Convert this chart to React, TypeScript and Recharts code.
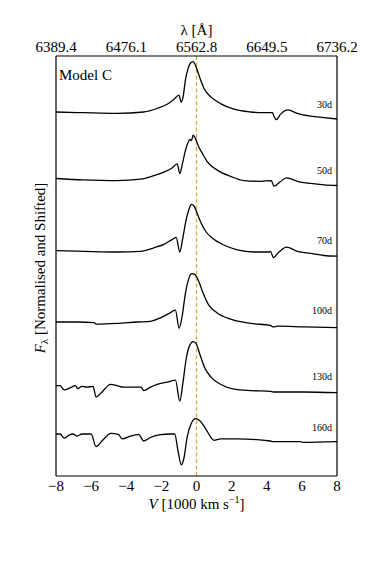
import React from 'react';
import { LineChart, Line, XAxis, YAxis, ReferenceLine, ReferenceDot } from 'recharts';

const FONT = '"Liberation Serif", "DejaVu Serif", "Times New Roman", serif';

// velocity (1000 km/s) and normalised+shifted flux for each epoch
const v30 = [-8, -6.44, -4.52, -3.0, -2.24, -1.67, -1.29, -1.0, -0.87, -0.76, -0.63, -0.48, -0.34, -0.21, -0.1, 0.04, 0.23, 0.42, 0.8, 1.37, 2.13, 3.08, 3.84, 4.32, 4.41, 4.54, 4.79, 5.21, 5.74, 6.5, 7.26, 8];
const f30 = [4.70, 4.69, 4.68, 4.70, 4.75, 4.81, 4.88, 4.94, 4.84, 4.92, 5.16, 5.32, 5.40, 5.42, 5.39, 5.30, 5.16, 5.04, 4.92, 4.82, 4.74, 4.70, 4.69, 4.69, 4.64, 4.59, 4.67, 4.73, 4.68, 4.64, 4.62, 4.60];

const v50 = [-8, -6.44, -4.52, -3.19, -2.43, -1.86, -1.39, -1.1, -0.95, -0.82, -0.67, -0.49, -0.38, -0.29, -0.19, -0.06, 0.13, 0.38, 0.61, 1.18, 1.94, 2.7, 3.65, 4.26, 4.41, 4.75, 5.13, 5.74, 6.5, 7.26, 8];
const f50 = [3.75, 3.73, 3.72, 3.74, 3.79, 3.84, 3.90, 3.96, 3.82, 3.94, 4.11, 4.26, 4.31, 4.29, 4.37, 4.32, 4.20, 4.09, 3.99, 3.87, 3.78, 3.72, 3.71, 3.72, 3.64, 3.70, 3.76, 3.71, 3.68, 3.66, 3.65];

const v70 = [-8, -6.44, -4.52, -3.19, -2.43, -1.86, -1.44, -1.16, -0.95, -0.8, -0.63, -0.44, -0.29, -0.15, 0.04, 0.27, 0.51, 0.89, 1.56, 2.32, 3.27, 4.13, 4.22, 4.37, 4.7, 5.13, 5.74, 6.5, 7.26, 8];
const f70 = [2.72, 2.71, 2.70, 2.71, 2.76, 2.81, 2.87, 2.91, 2.70, 2.87, 3.11, 3.30, 3.38, 3.36, 3.25, 3.11, 3.00, 2.90, 2.80, 2.73, 2.70, 2.70, 2.71, 2.62, 2.70, 2.77, 2.71, 2.68, 2.65, 2.64];

const v100 = [-8, -6.81, -5.82, -5.72, -4.52, -3.38, -2.62, -2.05, -1.58, -1.2, -0.99, -0.82, -0.63, -0.44, -0.25, -0.1, 0.13, 0.38, 0.7, 1.18, 1.94, 3.08, 4.22, 4.37, 4.6, 6.12, 8];
const f100 = [1.70, 1.70, 1.69, 1.67, 1.68, 1.70, 1.71, 1.76, 1.82, 1.87, 1.61, 1.78, 2.11, 2.32, 2.39, 2.38, 2.28, 2.11, 1.94, 1.83, 1.74, 1.68, 1.65, 1.63, 1.64, 1.63, 1.62];

const v130 = [-8, -7.77, -7.53, -7.19, -6.9, -6.77, -6.52, -6.24, -5.89, -5.72, -5.38, -4.9, -4.52, -4.14, -3.16, -3.0, -2.62, -2.24, -1.67, -1.2, -0.95, -0.78, -0.57, -0.38, -0.19, -0.04, 0.19, 0.46, 0.8, 1.37, 2.13, 3.08, 4.22, 4.37, 6.12, 8];
const f130 = [0.79, 0.79, 0.73, 0.76, 0.79, 0.75, 0.78, 0.77, 0.78, 0.63, 0.70, 0.81, 0.79, 0.77, 0.77, 0.72, 0.77, 0.81, 0.84, 0.87, 0.57, 0.82, 1.20, 1.37, 1.42, 1.40, 1.24, 1.05, 0.92, 0.81, 0.74, 0.72, 0.71, 0.70, 0.70, 0.69];

const v160 = [-8, -7.77, -7.53, -7.28, -7.03, -6.81, -6.52, -6.0, -5.72, -5.38, -4.87, -4.43, -4.24, -3.76, -3.29, -3.0, -2.62, -2.05, -1.48, -1.24, -1.06, -0.87, -0.72, -0.53, -0.3, -0.06, 0.19, 0.51, 0.8, 0.99, 1.37, 2.32, 4.22, 4.32, 5.93, 6.03, 8];
const f160 = [0.10, 0.10, 0.04, 0.08, 0.10, 0.07, 0.10, 0.10, -0.08, 0.00, 0.11, 0.09, 0.03, 0.07, 0.09, 0.00, 0.05, 0.09, 0.10, 0.10, -0.13, -0.34, -0.25, 0.06, 0.25, 0.32, 0.29, 0.18, 0.06, 0.01, 0.03, 0.03, 0.00, -0.01, -0.01, -0.02, -0.01];

const dayLabels = ['30d', '50d', '70d', '100d', '130d', '160d'];
const dayLabelY = [4.81, 3.86, 2.86, 1.86, 0.92, 0.2];
const dayLabelX = 7.72;

const velTicks = [-8, -6, -4, -2, 0, 2, 4, 6, 8];
const velMinorTicks = [-7, -5, -3, -1, 1, 3, 5, 7];
const topTicks = [-8, -4, 0, 4, 8];
const topTickLabels = ['6389.4', '6476.1', '6562.8', '6649.5', '6736.2'];
const yTicks = [0, 1, 2, 3, 4, 5];

const makeData = (v: number[], f: number[]) => v.map((x, i) => ({ v: x, f: f[i] }));
const series = [
  makeData(v30, f30),
  makeData(v50, f50),
  makeData(v70, f70),
  makeData(v100, f100),
  makeData(v130, f130),
  makeData(v160, f160),
];

const fmtVel = (n: number) => (n < 0 ? '\u2212' + Math.abs(n) : String(n));

const BottomTick = (props: any) => (
  <text x={props.x} y={props.y + 10} textAnchor="middle" dominantBaseline="central" fontFamily={FONT} fontSize={15} fill="#000">
    {fmtVel(props.payload.value)}
  </text>
);

const TopTick = (props: any) => {
  const idx = topTicks.indexOf(props.payload.value);
  return (
    <text x={props.x} y={props.y - 9.5} textAnchor="middle" dominantBaseline="central" fontFamily={FONT} fontSize={15} fill="#000">
      {topTickLabels[idx]}
    </text>
  );
};

const BottomTitle = (props: any) => {
  const vb = props.viewBox;
  return (
    <text x={vb.x + vb.width / 2} y={vb.y + 28} textAnchor="middle" dominantBaseline="central" fontFamily={FONT} fontSize={15} fill="#000">
      <tspan fontStyle="italic">V</tspan>
      <tspan> [1000 km s</tspan>
      <tspan dy={-5} fontSize={10}>{'\u22121'}</tspan>
      <tspan dy={5}>]</tspan>
    </text>
  );
};

const TopTitle = (props: any) => {
  const vb = props.viewBox;
  return (
    <text x={vb.x + vb.width / 2} y={vb.y + 13.5} textAnchor="middle" dominantBaseline="central" fontFamily={FONT} fontSize={15} fill="#000">
      {'\u03bb [\u00c5]'}
    </text>
  );
};

const LeftTitle = (props: any) => {
  const vb = props.viewBox;
  const cx = vb.x + 24;
  const cy = vb.y + vb.height / 2 + 2;
  return (
    <text x={cx} y={cy} transform={`rotate(-90, ${cx}, ${cy})`} textAnchor="middle" dominantBaseline="central" fontFamily={FONT} fontSize={15} fill="#000">
      <tspan fontStyle="italic">F</tspan>
      <tspan dy={4} fontSize={11}>{'\u03bb'}</tspan>
      <tspan dy={-4}> [Normalised and Shifted]</tspan>
    </text>
  );
};

const makeTextLabel = (text: string, anchor: 'start' | 'end', size: number) => (props: any) => {
  const vb = props.viewBox;
  return (
    <text x={vb.x} y={vb.y} textAnchor={anchor} dominantBaseline="central" fontFamily={FONT} fontSize={size} fill="#000">
      {text}
    </text>
  );
};

export default function App() {
  return (
    <div style={{ width: 366, height: 553 }}>
      <LineChart width={366} height={553} margin={{ top: 8, right: 37, bottom: 45, left: 8 }}>
        <XAxis xAxisId="main" dataKey="v" type="number" domain={[-8, 8]} allowDataOverflow ticks={velTicks} orientation="bottom" mirror tick={false} tickSize={4} stroke="#000" tickLine={{ stroke: '#000' }} axisLine={{ stroke: '#000', strokeWidth: 1.2 }} />
        <XAxis xAxisId="minor" dataKey="v" type="number" domain={[-8, 8]} allowDataOverflow ticks={velMinorTicks} orientation="bottom" mirror tick={false} tickSize={2} axisLine={false} tickLine={{ stroke: '#000' }} />
        <XAxis xAxisId="lab" dataKey="v" type="number" domain={[-8, 8]} allowDataOverflow ticks={velTicks} orientation="bottom" height={40} tickSize={0} tickMargin={0} tickLine={false} axisLine={false} tick={BottomTick} interval={0} label={BottomTitle} />
        <XAxis xAxisId="top" dataKey="v" type="number" domain={[-8, 8]} allowDataOverflow ticks={topTicks} orientation="top" mirror tick={false} tickSize={4} tickLine={{ stroke: '#000' }} axisLine={{ stroke: '#000', strokeWidth: 1.2 }} />
        <XAxis xAxisId="toplab" dataKey="v" type="number" domain={[-8, 8]} allowDataOverflow ticks={topTicks} orientation="top" height={40} tickSize={0} tickMargin={0} tickLine={false} axisLine={false} tick={TopTick} interval={0} label={TopTitle} />
        <YAxis yAxisId="main" type="number" domain={[-0.5, 5.5]} allowDataOverflow ticks={yTicks} orientation="left" mirror tick={false} tickSize={3} tickLine={{ stroke: '#000' }} axisLine={{ stroke: '#000', strokeWidth: 1.2 }} />
        <YAxis yAxisId="right" type="number" domain={[-0.5, 5.5]} allowDataOverflow ticks={yTicks} orientation="right" mirror tick={false} tickSize={3} tickLine={{ stroke: '#000' }} axisLine={{ stroke: '#000', strokeWidth: 1.2 }} />
        <YAxis yAxisId="lab" type="number" domain={[-0.5, 5.5]} allowDataOverflow ticks={yTicks} orientation="left" width={40} tick={false} tickLine={false} axisLine={false} label={LeftTitle} />
        <ReferenceLine xAxisId="main" yAxisId="main" x={0} stroke="#d4b035" strokeWidth={1.3} strokeDasharray="4 2.5" />
        {series.map((d, i) => (
          <Line key={dayLabels[i]} data={d} xAxisId="main" yAxisId="main" dataKey="f" type="monotone" stroke="#000" strokeWidth={1.3} dot={false} activeDot={false} isAnimationActive={false} />
        ))}
        {dayLabels.map((t, i) => (
          <ReferenceDot key={'lab' + t} xAxisId="main" yAxisId="main" x={dayLabelX} y={dayLabelY[i]} r={0} fill="none" stroke="none" label={makeTextLabel(t, 'end', 10)} />
        ))}
        <ReferenceDot xAxisId="main" yAxisId="main" x={-7.83} y={5.23} r={0} fill="none" stroke="none" label={makeTextLabel('Model C', 'start', 15)} />
      </LineChart>
    </div>
  );
}
